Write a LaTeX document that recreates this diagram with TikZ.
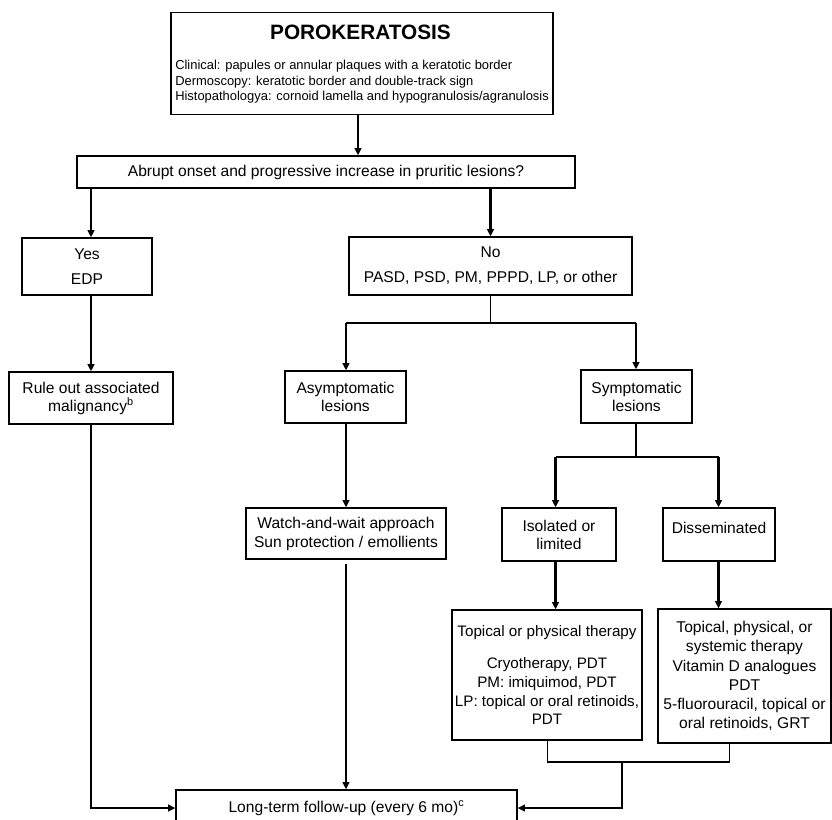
\documentclass[tikz,border=0pt]{standalone}
\usepackage{fontspec}
\setmainfont{Liberation Sans}
\usetikzlibrary{arrows.meta}
\begin{document}
\begin{tikzpicture}[x=0.75pt,y=-0.75pt,
  bx/.style={draw=black, line width=0.9pt, inner sep=0pt, align=center, font=\fontsize{11.7}{13.5}\selectfont},
  sz/.style 2 args={minimum width=#1*0.75pt, minimum height=#2*0.75pt},
  lead/.style={font=\fontsize{11.7}{#1}\selectfont},
  wthin/.style={line width=0.8pt},
  wthick/.style={line width=1.7pt},
  arr/.style={wthick, -{Triangle[length=5.5pt,width=5pt]}},
  bodytxt/.style={inner sep=0pt, anchor=base west, font=\fontsize{9.7}{11.8}\selectfont},
]
\useasboundingbox (0,0) rectangle (832,819);
\clip (0,0) rectangle (832,819);

% column and row coordinates
\coordinate (cA) at (358,0);
\coordinate (cY) at (91,0);
\coordinate (cN) at (490.5,0);
\coordinate (cAs) at (346,0);
\coordinate (cS) at (636,0);
\coordinate (cI) at (555.5,0);
\coordinate (cD) at (718.5,0);
\coordinate (cT) at (547.5,0);
\coordinate (cDT) at (729.5,0);

% boxes
\node[bx, sz={382}{101.5}] (top) at (362,63.5) {};
\node[inner sep=0pt, anchor=base, font=\fontsize{15.6}{18}\selectfont\bfseries] (title) at (360.5,39) {POROKERATOSIS};
\node[bodytxt] (b1) at (175,69) {Clinical: papules or annular plaques with a keratotic border};
\node[bodytxt] (b2) at (175,85) {Dermoscopy: keratotic border and double-track sign};
\node[bodytxt] (b3) at (175,100.7) {Histopathologya: cornoid lamella and hypogranulosis/agranulosis};

\node[bx, sz={498}{32}] (q) at (326,172) {Abrupt onset and progressive increase in pruritic lesions?};
\node[bx, sz={130}{57}, lead=18.75pt] (yes) at (87,266.5) {Yes\\EDP};
\node[bx, sz={283}{58}, lead=18.75pt] (no) at (490.5,266) {No\\PASD, PSD, PM, PPPD, LP, or other};
\node[bx, sz={164}{52}] (rule) at (91,398) {Rule out associated\\malignancy\textsuperscript{b}};
\node[bx, sz={121}{52}] (asym) at (345.5,397) {Asymptomatic\\lesions};
\node[bx, sz={111}{53}] (sym) at (636.5,396.5) {Symptomatic\\lesions};
\node[bx, sz={200}{51}, lead=14.25pt] (watch) at (346,533.5) {Watch-and-wait approach\\Sun protection / emollients};
\node[bx, sz={114}{53}] (iso) at (559,534.5) {Isolated or\\limited};
\node[bx, sz={112}{53}] (dis) at (719,534.5) {Disseminated\\[-4pt]\mbox{}};
\node[bx, sz={190}{130}, font=\fontsize{11.4}{13.9}\selectfont] (tt) at (547,675) {Topical or physical therapy\\[10.5pt]Cryotherapy, PDT\\PM: imiquimod, PDT\\LP: topical or oral retinoids,\\PDT};
\node[bx, sz={173}{134}, lead=14.4pt] (dt) at (744.5,676) {Topical, physical, or\\systemic therapy\\Vitamin D analogues\\PDT\\5-fluorouracil, topical or\\oral retinoids, GRT};
\node[bx, sz={341}{36}] (fu) at (346.5,808) {Long-term follow-up (every 6 mo)\textsuperscript{c}};

% connectors
\coordinate (br1) at (490.5,323);
\coordinate (br2) at (636,457);
\coordinate (jn) at (622,762);
\coordinate (wgap) at ([yshift=-3pt]watch.south);

\draw[arr] (top.south -| cA) -- (q.north -| cA);
\draw[arr] (q.south -| cY) -- (yes.north -| cY);
\draw[arr] (q.south -| cN) -- (no.north -| cN);
\draw[arr] (yes.south -| cY) -- (rule.north -| cY);
\draw[arr] (rule.south -| cY) |- (fu.west);

\draw[wthin] (no.south -| cN) -- (br1);
\draw[wthin] (br1 -| cAs) -- (br1 -| cS);
\draw[arr] (br1 -| cAs) -- (asym.north -| cAs);
\draw[arr] (br1 -| cS) -- (sym.north -| cS);
\draw[arr] (asym.south -| cAs) -- (watch.north -| cAs);
\draw[arr] (wgap -| cAs) -- (fu.north -| cAs);

\draw[wthin] (sym.south -| cS) -- (br2);
\draw[wthin] (br2 -| cI) -- (br2 -| cD);
\draw[arr] (br2 -| cI) -- (iso.north -| cI);
\draw[arr] (br2 -| cD) -- (dis.north -| cD);
\draw[arr] (iso.south -| cI) -- (tt.north -| cI);
\draw[arr] (dis.south -| cD) -- (dt.north -| cD);

\draw[wthin] (tt.south -| cT) |- (jn);
\draw[wthin] (dt.south -| cDT) -- (jn -| cDT);
\draw[wthick] (jn -| cDT) -- (jn);
\draw[arr] (jn) |- (fu.east);
\end{tikzpicture}
\end{document}
